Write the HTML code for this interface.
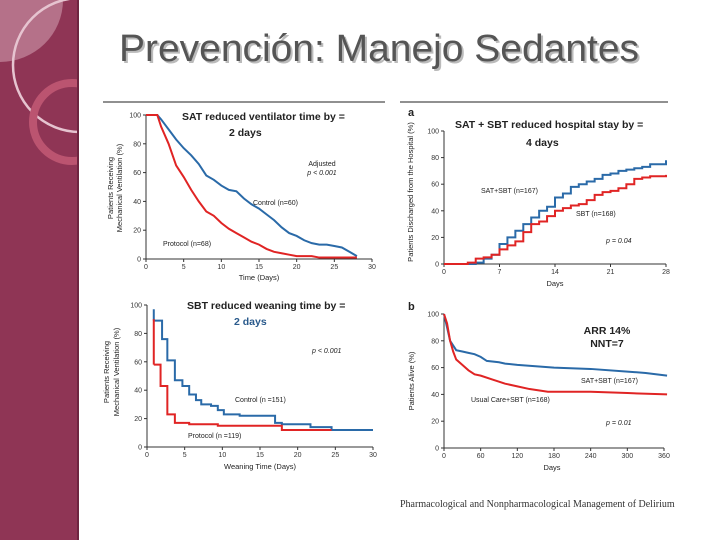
<!DOCTYPE html>
<html><head><meta charset="utf-8"><style>
html,body{margin:0;padding:0;background:#fff}
svg{display:block;font-family:"Liberation Sans",sans-serif}
</style></head><body>
<svg id="s" width="720" height="540" viewBox="0 0 720 540">
<defs><clipPath id="sb"><rect x="0" y="0" width="79" height="540"/></clipPath></defs>
<g clip-path="url(#sb)">
<rect x="0" y="0" width="79" height="540" fill="#8f3555"/>
<path d="M0,0H63A63,62 0 0 1 0,62Z" fill="#b57189"/>
<circle cx="80" cy="65" r="67" fill="none" stroke="#e6c4d0" stroke-width="2.5"/>
<circle cx="72" cy="122" r="39" fill="none" stroke="#bb5470" stroke-width="8"/>
<rect x="77" y="0" width="2" height="540" fill="#6e2540"/>
</g>
<text x="121" y="63" font-size="38" textLength="520" lengthAdjust="spacingAndGlyphs" fill="#bbb">Prevención: Manejo Sedantes</text>
<text x="119" y="61" font-size="38" textLength="520" lengthAdjust="spacingAndGlyphs" fill="#555">Prevención: Manejo Sedantes</text>
<line x1="103" y1="102" x2="385" y2="102" stroke="#222"/>
<line x1="400" y1="102" x2="668" y2="102" stroke="#222"/>
<text x="400" y="507" font-family="Liberation Serif,serif" font-size="10" fill="#333">Pharmacological and Nonpharmacological Management of Delirium</text>
<g id="charts"></g>
</svg>
<script>
// Chart 1: SAT ventilator
const c1X=[0,1.5,2,3,4,5,6,7,8,9,10,11,12,13,14,15,16,17,18,19,20,21,22,23,24,25,26,27,28];
const c1Control=[100,100,97,90,83,77,72,66,58,55,51,48,47,42,38,35,31,27,22,18,16,13,11,10,10,9,8,5,2];
const c1Protocol=[100,100,92,80,65,57,48,40,33,30,25,21,18,15,12,10,7,5,4,3,2,2,2,1,1,1,1,1,1];
const c1XTicks=[0,5,10,15,20,25,30];
// Chart 2: hospital discharge
const c2X=[0,3,4,5,6,7,8,9,10,11,12,13,14,15,16,17,18,19,20,21,22,23,24,25,26,28];
const c2SatSbt=[0,0,1,4,7,15,20,25,30,35,40,43,50,53,58,60,62,64,67,68,70,71,72,73,75,78];
const c2Sbt=[0,1,4,5,7,11,14,17,24,30,32,36,40,42,44,45,48,52,54,55,57,60,64,65,66,67];
const c2XTicks=[0,7,14,21,28];
// Chart 3: weaning (step)
const c3ControlX=[0,0.9,2,2.7,3.7,4.7,5.6,6.5,7.2,8.5,9.4,10.2,12.3,17,17.9,21.7,24.5,30];
const c3ControlY=[97,89,76,61,47,43,37,33,30,29,26,23,22,17,16,14,12,12];
const c3ProtocolX=[0,0.9,1.8,2.7,3.7,5.6,9.4,17.9,24.5];
const c3ProtocolY=[90,58,43,23,17,16,15,12,12];
// Chart 4: survival
const c4BlueX=[0,5,10,20,30,40,50,60,70,90,100,120,150,180,240,300,330,365];
const c4BlueY=[100,90,80,73,72,71,70,68,65,64,63,62,61,60,59,57,56,54];
const c4RedX=[0,5,10,15,20,30,40,50,60,80,100,120,140,170,240,300,365];
const c4RedY=[100,93,80,72,66,62,58,55,54,51,48,46,44,42,42,41,40];
const c4XTicks=[0,60,120,180,240,300,360];
const yTicks=[0,20,40,60,80,100];

const NS="http://www.w3.org/2000/svg";
const root=document.getElementById('charts');
function mk(tag,at,parent,txt){const e=document.createElementNS(NS,tag);for(const k in at)e.setAttribute(k,at[k]);if(txt!==undefined)e.textContent=txt;(parent||root).appendChild(e);return e;}
function axes(g,x0,x1,y0,y1,xmax,xt,ymax){
 const sx=v=>x0+(v/xmax)*(x1-x0), sy=v=>y0-(v/ymax)*(y0-y1);
 const ax=mk('path',{d:`M${x0},${y1}V${y0}H${x1}`,stroke:'#333',fill:'none','stroke-width':1},g);
 
 
 yTicks.forEach(t=>{mk('line',{x1:x0-3,x2:x0,y1:sy(t),y2:sy(t),stroke:'#333'},g);
  const l=mk('text',{x:x0-5,y:sy(t)+2.5,'font-size':7,'text-anchor':'end',fill:'#333'},g,t);
  
  });
 xt.forEach(t=>{mk('line',{x1:sx(t),x2:sx(t),y1:y0,y2:y0+3,stroke:'#333'},g);
  const l=mk('text',{x:sx(t),y:y0+10,'font-size':7,'text-anchor':'middle',fill:'#333'},g,t);
  
  });
 return [sx,sy];
}
function line(g,xs,ys,sx,sy,col,step,name){
 let d='';xs.forEach((x,i)=>{if(i==0)d+=`M${sx(x)},${sy(ys[i])}`;else if(step)d+=`H${sx(x)}V${sy(ys[i])}`;else d+=`L${sx(x)},${sy(ys[i])}`;});
 const p=mk('path',{d,stroke:col,fill:'none','stroke-width':2},g);
 
 
}
function T(g,x,y,s,txt,o,name){const t=mk('text',Object.assign({x,y,'font-size':s,fill:'#222'},o||{}),g,txt);
 
 return t;}
const BLUE='#2a6aa8',RED='#e02424';
// chart 1
let g=mk('g',{});
let [sx,sy]=axes(g,146,372,259,115,30,c1XTicks,100);
line(g,c1X,c1Control,sx,sy,BLUE,false,'control-line');
line(g,c1X,c1Protocol,sx,sy,RED,false,'protocol-line');
T(g,182,120,10.5,'SAT reduced ventilator time by =',{'font-weight':'bold'},'chart-title');
T(g,229,136,10.5,'2 days',{'font-weight':'bold'},'chart-subtitle');
T(g,322,166,7,'Adjusted',{'text-anchor':'middle'},'p-label');
T(g,322,175,7,'p < 0.001',{'text-anchor':'middle','font-style':'italic'},'p-value');
T(g,253,205,7,'Control (n=60)',{},'control-label');
T(g,163,246,7,'Protocol (n=68)',{},'protocol-label');
T(g,259,280,7.5,'Time (Days)',{'text-anchor':'middle'},'x-axis-title');
T(g,0,0,7.5,'Patients Receiving',{transform:'translate(113,188) rotate(-90)','text-anchor':'middle'},'y-axis-title');
T(g,0,0,7.5,'Mechanical Ventilation (%)',{transform:'translate(122,188) rotate(-90)','text-anchor':'middle'},'y-axis-title-2');
// chart 2
g=mk('g',{});
[sx,sy]=axes(g,444,666,264,131,28,c2XTicks,100);
line(g,c2X,c2SatSbt,sx,sy,BLUE,true,'sat-sbt-line');
line(g,c2X,c2Sbt,sx,sy,RED,true,'sbt-line');
T(g,408,116,11,'a',{'font-weight':'bold'},'panel-label-a');
T(g,455,128,10.5,'SAT + SBT reduced hospital stay by =',{'font-weight':'bold'},'chart-title');
T(g,526,146,10.5,'4 days',{'font-weight':'bold'},'chart-subtitle');
T(g,481,193,7,'SAT+SBT (n=167)',{},'sat-sbt-label');
T(g,576,216,7,'SBT (n=168)',{},'sbt-label');
T(g,606,243,7,'p = 0.04',{'font-style':'italic'},'p-value');
T(g,555,286,7.5,'Days',{'text-anchor':'middle'},'x-axis-title');
T(g,0,0,7.5,'Patients Discharged from the Hospital (%)',{transform:'translate(413,192) rotate(-90)','text-anchor':'middle'},'y-axis-title');
// chart 3
g=mk('g',{});
[sx,sy]=axes(g,147,373,447,305,30,c1XTicks,100);
line(g,c3ControlX.slice(1),c3ControlY.slice(1),sx,sy,BLUE,true,'control-line');
line(g,c3ProtocolX.slice(1),c3ProtocolY.slice(1),sx,sy,RED,true,'protocol-line');
mk('line',{x1:sx(0.9),x2:sx(0.9),y1:sy(c3ControlY[0]),y2:sy(c3ControlY[1]),stroke:BLUE,'stroke-width':2},g);
mk('line',{x1:sx(0.9),x2:sx(0.9),y1:sy(c3ProtocolY[0]),y2:sy(c3ProtocolY[1]),stroke:RED,'stroke-width':2},g);
T(g,187,309,10.5,'SBT reduced weaning time by =',{'font-weight':'bold'},'chart-title');
T(g,234,325,10.5,'2 days',{'font-weight':'bold',fill:'#2a5a8c'},'chart-subtitle');
T(g,312,353,7,'p < 0.001',{'font-style':'italic'},'p-value');
T(g,235,402,7,'Control (n =151)',{},'control-label');
T(g,188,438,7,'Protocol (n =119)',{},'protocol-label');
T(g,260,469,7.5,'Weaning Time (Days)',{'text-anchor':'middle'},'x-axis-title');
T(g,0,0,7.5,'Patients Receiving',{transform:'translate(109,372) rotate(-90)','text-anchor':'middle'},'y-axis-title');
T(g,0,0,7.5,'Mechanical Ventilation (%)',{transform:'translate(119,372) rotate(-90)','text-anchor':'middle'},'y-axis-title-2');
// chart 4
g=mk('g',{});
[sx,sy]=axes(g,444,664,448,314,360,c4XTicks,100);
line(g,c4BlueX,c4BlueY,sx,sy,BLUE,false,'sat-sbt-line');
line(g,c4RedX,c4RedY,sx,sy,RED,false,'usual-care-line');
T(g,408,310,11,'b',{'font-weight':'bold'},'panel-label-b');
T(g,607,334,10.5,'ARR 14%',{'font-weight':'bold','text-anchor':'middle'},'arr-label');
T(g,607,347,10.5,'NNT=7',{'font-weight':'bold','text-anchor':'middle'},'nnt-label');
T(g,581,383,7,'SAT+SBT (n=167)',{},'sat-sbt-label');
T(g,471,402,7,'Usual Care+SBT (n=168)',{},'usual-care-label');
T(g,606,425,7,'p = 0.01',{'font-style':'italic'},'p-value');
T(g,552,470,7.5,'Days',{'text-anchor':'middle'},'x-axis-title');
T(g,0,0,7.5,'Patients Alive (%)',{transform:'translate(414,381) rotate(-90)','text-anchor':'middle'},'y-axis-title');
</script>
</body></html>
